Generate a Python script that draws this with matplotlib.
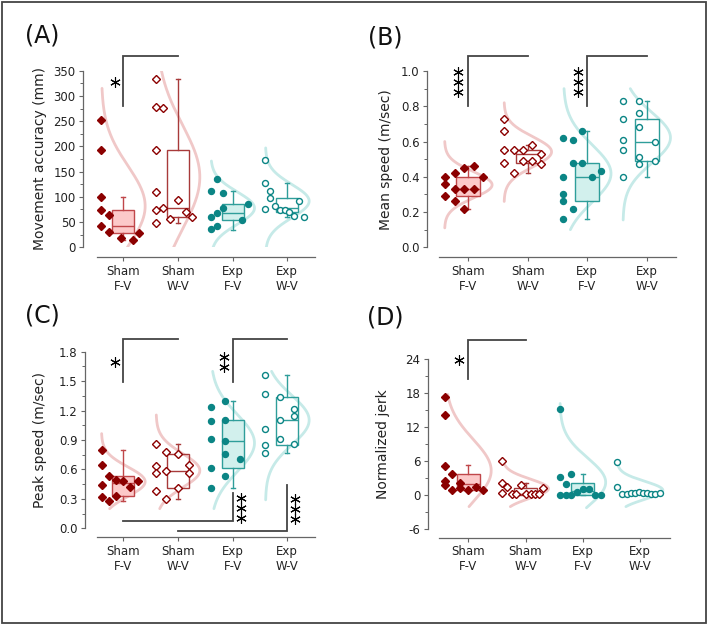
import numpy as np
import matplotlib.pyplot as plt
from matplotlib.patches import Rectangle
from matplotlib.ticker import MultipleLocator, FormatStrFormatter

plt.rcParams['font.family'] = 'DejaVu Sans'
plt.rcParams['axes.unicode_minus'] = False

groups = ['Sham\nF-V', 'Sham\nW-V', 'Exp\nF-V', 'Exp\nW-V']

# (A) movement accuracy (mm)
acc_vals = [[252, 192, 99, 74, 65, 42, 31, 19, 14, 28],
            [333, 279, 277, 193, 110, 94, 73, 77, 69, 48, 56, 61],
            [135, 111, 108, 85, 78, 67, 60, 55, 42, 36],
            [174, 128, 112, 97, 75, 82, 73, 73, 70, 92, 63, 60]]
# box stats: whislo, q1, med, q3, whishi
acc_box = [[14, 29, 42, 73, 99], [48, 61, 77, 192, 333],
           [35, 55, 67, 85, 111], [60, 69, 77, 97, 128]]
acc_span = [(0, 315), (0, 350), (0, 171), (0, 197)]

# (B) mean speed (m/sec)
mean_vals = [[0.45, 0.46, 0.42, 0.40, 0.40, 0.36, 0.33, 0.33, 0.33, 0.29, 0.26, 0.22],
             [0.73, 0.66, 0.55, 0.55, 0.55, 0.58, 0.53, 0.48, 0.49, 0.49, 0.47, 0.42],
             [0.66, 0.62, 0.61, 0.48, 0.48, 0.43, 0.40, 0.40, 0.30, 0.26, 0.22, 0.16],
             [0.83, 0.83, 0.73, 0.76, 0.68, 0.61, 0.55, 0.60, 0.51, 0.47, 0.49, 0.40]]
mean_box = [[0.22, 0.29, 0.33, 0.40, 0.46], [0.42, 0.48, 0.53, 0.55, 0.58],
            [0.16, 0.26, 0.40, 0.48, 0.66], [0.40, 0.49, 0.60, 0.73, 0.83]]
mean_span = [(0.11, 0.60), (0.26, 0.82), (0.10, 0.90), (0.155, 0.90)]

# (C) peak speed (m/sec)
peak_vals = [[0.80, 0.645, 0.535, 0.495, 0.48, 0.48, 0.42, 0.44, 0.32, 0.33, 0.28],
             [0.855, 0.78, 0.755, 0.65, 0.64, 0.56, 0.58, 0.56, 0.41, 0.38, 0.30],
             [1.30, 1.235, 1.105, 1.09, 0.915, 0.89, 0.755, 0.71, 0.615, 0.535, 0.41],
             [1.56, 1.37, 1.335, 1.215, 1.145, 1.105, 1.01, 0.915, 0.85, 0.855, 0.765]]
peak_box = [[0.28, 0.325, 0.46, 0.535, 0.80], [0.30, 0.41, 0.58, 0.755, 0.855],
            [0.41, 0.615, 0.89, 1.105, 1.30], [0.765, 0.85, 1.105, 1.335, 1.56]]
peak_span = [(0.20, 0.965), (0.20, 1.155), (0.20, 1.60), (0.29, 1.60)]

# (D) normalized jerk
jerk_vals = [[17.4, 14.1, 5.2, 3.8, 2.5, 1.8, 2.1, 1.2, 0.9, 0.9, 1.5, 0.9],
             [6.0, 2.1, 1.4, 0.35, 1.9, 0.2, 0.2, 0.2, 0.2, 0.2, 0.2, 1.2],
             [15.3, 3.3, 3.8, 2.0, 0.05, 0.05, 0.05, 0.6, 1.1, 1.1, 0.05, 0.05],
             [5.8, 1.4, 0.2, 0.2, 0.4, 0.4, 0.6, 0.4, 0.35, 0.2, 0.2, 0.4]]
jerk_box = [[0.9, 1.0, 2.0, 3.8, 5.3], [0.05, 0.05, 0.2, 1.35, 2.1],
            [0.05, 0.05, 0.7, 2.15, 3.8], [0.2, 0.2, 0.4, 0.55, 0.6]]
jerk_span = [(-2, 17.8), (-2, 6.3), (-2.2, 16.2), (-2, 5.4)]

# horizontal placement of the points beside each box (category units)
acc_jit = [[-.40, -.40, -.40, -.40, -.27, -.40, -.27, -.05, .17, .29],
           [-.41, -.41, -.27, -.41, -.41, 0, -.41, -.27, .14, -.41, -.14, .26],
           [-.29, -.40, -.17, .29, -.17, -.29, -.40, .17, -.29, -.40],
           [-.40, -.40, -.31, -.31, -.40, -.22, -.13, -.05, .04, .22, .13, .31]]
mean_jit = [[-.07, .09, -.22, .25, -.39, -.39, -.22, -.07, .09, -.39, -.22, -.07],
            [-.40, -.40, -.40, -.24, -.08, .07, .23, -.40, -.08, .07, .23, -.24],
            [-.08, -.40, -.24, -.24, -.08, .24, -.40, .08, -.40, -.40, -.24, -.40],
            [-.40, -.135, -.40, -.135, -.135, -.40, -.40, .135, -.135, -.135, .135, -.40]]
peak_jit = [[-.39, -.39, -.26, -.13, 0, .26, .13, -.39, -.39, -.13, -.26],
            [-.41, -.21, 0, .2, -.41, -.41, -.21, .2, 0, -.41, -.21],
            [-.135, -.40, -.135, -.40, -.40, -.135, -.135, .135, -.40, -.135, -.40],
            [-.40, -.40, -.14, .12, .12, -.14, -.40, -.14, -.40, .12, -.40]]
jerk_jit = [[-.41, -.41, -.41, -.28, -.41, -.41, -.14, -.14, -.28, 0, .13, .26],
            [-.41, -.41, -.33, -.41, -.08, -.24, -.17, 0, .09, .16, .24, .31],
            [-.40, -.40, -.20, -.30, -.40, -.30, -.20, -.095, .01, .11, .21, .31],
            [-.40, -.40, -.31, -.23, -.16, -.09, -.02, .05, .12, .19, .27, .35]]

dark_red = '#8b0000'
teal = '#0b8585'
styles = [
    dict(marker='D', mfc=dark_red, mec=dark_red, ms=3.8, box_ec='#c0474a', box_fc='#fcc9c9', curve='#f0c8c8'),
    dict(marker='D', mfc='white', mec=dark_red, ms=3.8, box_ec='#a83a3a', box_fc='none', curve='#f0c8c8'),
    dict(marker='o', mfc=teal, mec=teal, ms=4.3, box_ec='#2f9e9a', box_fc='#d2f0ed', curve='#c6eae8'),
    dict(marker='o', mfc='white', mec=teal, ms=4.3, box_ec='#2f9e9a', box_fc='none', curve='#c6eae8'),
]

W, H = 709, 624
fig = plt.figure(figsize=(W / 100, H / 100), dpi=100)


def px_axes(l, r, top, bottom):
    return fig.add_axes([l / W, 1 - bottom / H, (r - l) / W, (bottom - top) / H])


def draw_panel(ax, vals, jit, box, span, xlim, ylim, major, minor, fmt,
               ylabel, label_x, off_left, off_bottom):
    for i in range(4):
        cat = i + 1
        st = styles[i]
        v = np.array(vals[i])
        m, s = v.mean(), v.std(ddof=1)
        yy = np.linspace(span[i][0], span[i][1], 200)
        xx = cat - 0.4 + 0.8 * np.exp(-0.5 * ((yy - m) / s) ** 2)
        ax.plot(xx, yy, color=st['curve'], lw=2.0, zorder=1, solid_capstyle='round')
        lo, q1, med, q3, hi = box[i]
        stats = [dict(whislo=lo, q1=q1, med=med, q3=q3, whishi=hi, fliers=[])]
        ax.bxp(stats, positions=[cat], widths=0.4, patch_artist=True,
               showfliers=False, manage_ticks=False, capwidths=0.07,
               boxprops=dict(facecolor=st['box_fc'], edgecolor=st['box_ec'], lw=1.0),
               medianprops=dict(color=st['box_ec'], lw=1.0),
               whiskerprops=dict(color=st['box_ec'], lw=1.0),
               capprops=dict(color=st['box_ec'], lw=1.0), zorder=2)
        ax.plot(cat + np.array(jit[i]), v, ls='none', marker=st['marker'],
                mfc=st['mfc'], mec=st['mec'], ms=st['ms'], mew=1.0, zorder=3,
                clip_on=False)
    ax.set_xlim(*xlim)
    ax.set_ylim(*ylim)
    ax.set_xticks([1, 2, 3, 4])
    ax.set_xticklabels(groups)
    for t in ax.get_xticklabels():
        t.set_linespacing(1.0)
    ax.yaxis.set_major_locator(MultipleLocator(major))
    ax.yaxis.set_minor_locator(MultipleLocator(minor))
    ax.yaxis.set_major_formatter(FormatStrFormatter(fmt))
    for side in ['top', 'right']:
        ax.spines[side].set_visible(False)
    ax.spines['left'].set_position(('outward', off_left))
    ax.spines['bottom'].set_position(('outward', off_bottom))
    for side in ['left', 'bottom']:
        ax.spines[side].set_color('#666666')
        ax.spines[side].set_linewidth(0.9)
    ax.tick_params(axis='both', which='major', length=3, width=0.8,
                   color='#666666', labelsize=8.5, labelcolor='#222222', pad=2.5)
    ax.tick_params(axis='y', which='minor', length=2, width=0.7, color='#666666')
    ax.set_ylabel(ylabel, fontsize=10, color='#222222')
    ax.yaxis.set_label_coords(label_x, 0.5)
    ax.patch.set_visible(False)


def bracket(ax, xs, ys):
    ax.plot(xs, ys, color='#444444', lw=1.3, clip_on=False, zorder=4,
            solid_joinstyle='miter')


def stars(ax, x, ys):
    ax.plot([x] * len(ys), ys, ls='none', marker=(6, 2, 0), ms=7.5, mew=0.8,
            color='black', clip_on=False, zorder=4)


axA = px_axes(97, 315, 70.7, 247.3)
draw_panel(axA, acc_vals, acc_jit, acc_box, acc_span, (0.519, 4.507), (0, 350),
           50, 25, '%d', 'Movement accuracy (mm)', -0.229, 10, 7)
bracket(axA, [1, 1, 2], [280, 380, 380])
stars(axA, 0.84, [328])

axB = px_axes(439, 676, 71, 247.3)
draw_panel(axB, mean_vals, mean_jit, mean_box, mean_span, (0.507, 4.493), (0, 1.0),
           0.2, 0.1, '%.1f', 'Mean speed (m/sec)', -0.194, 8.6, 7)
bracket(axB, [1, 1, 2], [0.803, 1.087, 1.087])
bracket(axB, [3, 3, 4], [0.803, 1.087, 1.087])
stars(axB, 0.83, [0.994, 0.939, 0.883])
stars(axB, 2.85, [0.994, 0.939, 0.883])

axC = px_axes(97, 315, 351.7, 528.3)
draw_panel(axC, peak_vals, peak_jit, peak_box, peak_span, (0.519, 4.507), (0, 1.8),
           0.3, 0.15, '%.1f', 'Peak speed (m/sec)', -0.229, 8.6, 6.3)
bracket(axC, [1, 1, 2], [1.49, 1.926, 1.926])
bracket(axC, [3, 3, 4], [1.49, 1.926, 1.926])
bracket(axC, [1, 3, 3], [0.074, 0.074, 0.36])
bracket(axC, [2, 4, 4], [-0.028, -0.028, 0.44])
stars(axC, 0.84, [1.69])
stars(axC, 2.85, [1.748, 1.646])
stars(axC, 3.145, [0.306, 0.204, 0.102])
stars(axC, 4.14, [0.295, 0.194, 0.092])

axD = px_axes(439, 670, 359.3, 529.3)
draw_panel(axD, jerk_vals, jerk_jit, jerk_box, jerk_span, (0.488, 4.524), (-6, 24),
           6, 3, '%d', 'Normalized jerk', -0.212, 8, 6)
bracket(axD, [1, 1, 2], [20.6, 27.4, 27.4])
stars(axD, 0.84, [23.8])

for txt, x, y in [('(A)', 42, 36), ('(B)', 385, 37), ('(C)', 42, 316), ('(D)', 385, 317)]:
    fig.text(x / W, 1 - y / H, txt, fontsize=17, ha='center', va='center', color='#111111')

fig.patches.append(Rectangle((1.5 / W, 1.5 / H), 704.5 / W, 620.5 / H,
                             transform=fig.transFigure, fill=False,
                             ec='#444444', lw=1.3))

fig.savefig('out.png', dpi=100)
